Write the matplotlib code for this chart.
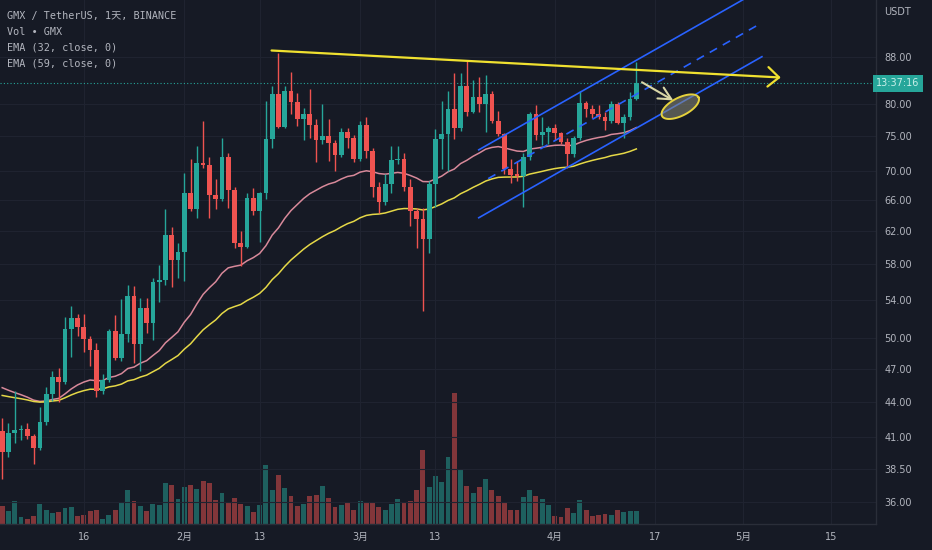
import numpy as np
import pandas as pd
import matplotlib
matplotlib.use("Agg")
import matplotlib.pyplot as plt
import matplotlib.transforms as mtransforms
from matplotlib.ticker import FixedLocator, NullLocator, FixedFormatter

# --- GMX / USDT daily candles, 2023-01-03 .. 2023-04-14 ---
start_date = "2023-01-03"

opens = [41.5, 39.8, 41.4, 41.6, 41.7, 41.1, 40.1, 42.3, 44.7, 46.3,
         45.8, 51.0, 52.1, 51.2, 49.9, 48.9, 45.0, 46.0, 50.8, 48.1,
         50.4, 54.5, 49.4, 53.2, 51.6, 56.0, 56.2, 61.5, 58.5, 59.5,
         66.9, 64.8, 71.1, 70.8, 66.7, 66.2, 72.0, 67.3, 60.5, 60.1,
         66.3, 64.6, 66.9, 74.6, 81.6, 76.4, 82.2, 80.3, 77.6, 78.5,
         76.8, 74.5, 75.1, 74.0, 72.2, 75.7, 74.7, 71.7, 76.8, 72.9,
         67.8, 65.7, 68.1, 71.5, 71.7, 67.8, 64.6, 63.5, 61.0, 68.2,
         74.6, 75.4, 79.2, 76.2, 83.0, 78.8, 81.1, 80.0, 81.6, 77.4,
         75.3, 70.3, 69.4, 69.3, 71.9, 78.4, 75.2, 75.6, 76.2, 75.5,
         74.2, 72.4, 74.7, 80.2, 79.2, 78.4, 77.9, 77.4, 80.0, 77.1,
         77.9, 80.9]
highs = [42.6, 42.2, 45.0, 42.0, 42.2, 41.3, 43.6, 45.4, 46.8, 47.1,
         52.2, 53.4, 52.5, 52.5, 50.2, 49.5, 46.6, 51.0, 52.4, 54.1,
         55.7, 55.6, 54.2, 54.2, 56.4, 57.9, 64.8, 62.5, 60.6, 69.7,
         71.6, 73.5, 77.3, 72.0, 68.8, 74.8, 72.6, 67.7, 62.0, 66.9,
         67.6, 67.1, 80.5, 83.0, 88.7, 83.0, 85.4, 81.8, 79.4, 82.4,
         77.6, 80.1, 77.7, 74.5, 76.3, 76.3, 75.2, 77.3, 78.0, 73.3,
         68.4, 69.5, 73.5, 73.5, 72.6, 68.9, 65.0, 65.0, 68.6, 76.1,
         80.5, 82.1, 85.1, 85.2, 87.3, 84.0, 84.5, 84.8, 82.2, 78.9,
         75.5, 71.6, 71.4, 72.6, 78.8, 79.8, 77.9, 76.6, 76.9, 75.7,
         74.7, 75.1, 82.1, 80.5, 79.9, 79.9, 78.8, 80.5, 80.3, 78.4,
         81.9, 87.0]
lows = [37.7, 39.4, 40.5, 40.8, 40.9, 38.9, 40.0, 42.0, 44.1, 44.0,
        45.6, 48.2, 50.2, 48.7, 47.3, 44.5, 44.7, 45.8, 47.9, 47.8,
        49.6, 47.6, 46.8, 50.6, 49.8, 53.8, 55.7, 55.4, 56.4, 56.1,
        64.6, 63.7, 70.4, 63.7, 64.8, 65.9, 65.0, 60.0, 57.8, 59.9,
        64.0, 60.7, 66.1, 73.3, 76.3, 76.2, 78.5, 76.5, 74.4, 74.8,
        71.3, 73.8, 71.4, 69.9, 71.9, 73.3, 71.3, 71.4, 71.8, 66.4,
        64.3, 65.3, 67.0, 71.0, 67.2, 62.6, 59.9, 52.8, 59.4, 65.1,
        70.2, 70.0, 74.6, 75.8, 78.2, 78.6, 78.8, 75.7, 77.0, 75.0,
        69.6, 68.3, 68.6, 65.1, 71.5, 74.5, 73.7, 73.9, 74.5, 73.8,
        70.4, 71.9, 74.5, 77.9, 77.8, 77.6, 75.9, 77.0, 76.9, 74.7,
        77.5, 80.7]
closes = [39.8, 41.4, 41.6, 41.7, 41.1, 40.1, 42.3, 44.7, 46.3, 45.8,
          51.0, 52.1, 51.2, 49.9, 48.9, 45.0, 46.0, 50.8, 48.1, 50.4,
          54.5, 49.4, 53.2, 51.6, 56.0, 56.2, 61.5, 58.5, 59.5, 66.9,
          64.8, 71.1, 70.8, 66.7, 66.2, 72.0, 67.3, 60.5, 60.1, 66.3,
          64.6, 66.9, 74.6, 81.6, 76.4, 82.2, 80.3, 77.6, 78.5, 76.8,
          74.5, 75.1, 74.0, 72.2, 75.7, 74.7, 71.7, 76.8, 72.9, 67.8,
          65.7, 68.1, 71.5, 71.7, 67.8, 64.6, 63.5, 61.0, 68.2, 74.6,
          75.4, 79.2, 76.2, 83.0, 78.8, 81.1, 80.0, 81.6, 77.4, 75.3,
          70.3, 69.4, 69.3, 71.9, 78.4, 75.2, 75.6, 76.2, 75.5, 74.2,
          72.4, 74.7, 80.2, 79.2, 78.4, 77.9, 77.4, 80.0, 77.1, 77.9,
          80.9, 83.4]
# volume in thousands of GMX
volumes = [108, 78, 138, 42, 32, 48, 120, 86, 64, 72,
           94, 102, 50, 54, 78, 82, 32, 54, 82, 130,
           202, 140, 108, 78, 118, 114, 244, 234, 148, 224,
           234, 210, 260, 248, 144, 184, 132, 154, 118, 108,
           74, 114, 354, 202, 296, 214, 166, 110, 122, 166,
           174, 228, 156, 100, 112, 126, 82, 138, 130, 130,
           100, 82, 118, 152, 134, 138, 206, 448, 224, 286,
           254, 402, 788, 322, 228, 184, 224, 268, 202, 170,
           134, 84, 84, 160, 202, 166, 148, 112, 48, 44,
           94, 64, 144, 82, 48, 54, 60, 54, 86, 74,
           78, 78]

ema_fast_len, ema_slow_len = 32, 59
ema_fast_start, ema_slow_start = 45.3, 44.6   # EMA values on first visible bar

price_ticks = [36, 38.5, 41, 44, 47, 50, 54, 58, 62, 66, 70, 75, 80, 88]
time_ticks = ["2023-01-16", "2023-02-01", "2023-02-13", "2023-03-01", "2023-03-13",
              "2023-04-01", "2023-04-17", "2023-05-01", "2023-05-15"]
time_labels = ["16", "2月", "13", "3月", "13", "4月", "17", "5月", "15"]

legend_lines = ["GMX / TetherUS, 1天, BINANCE", "Vol \u2022 GMX",
                "EMA (32, close, 0)", "EMA (59, close, 0)"]
countdown = "13:37:16"

# drawings (bar index, price)
trend_line = [(42.9, 89.1), (124.0, 84.4)]
channel_upper = [(75.9, 73.0), (120.7, 100.6)]
channel_lower = [(75.9, 63.7), (121.0, 88.0)]
channel_mid = [(77.4, 68.9), (120.7, 94.0)]
small_arrow = [(101.9, 83.6), (106.9, 80.6)]
ellipse_center = (108.0, 79.6)

# --- colours ---
BG = "#161a25"
GRID = "#1f2330"
TXT = "#b2b5be"
UP = "#26a69a"
DOWN = "#ef5350"

o = np.array(opens); h = np.array(highs); l = np.array(lows); c = np.array(closes)
v = np.array(volumes)
idx = np.arange(len(c))
up = c >= o


def ema(values, length, first):
    a = 2.0 / (length + 1)
    out = [first]
    for val in values[1:]:
        out.append(out[-1] + a * (val - out[-1]))
    return np.array(out)


ema_fast = ema(c, ema_fast_len, ema_fast_start)
ema_slow = ema(c, ema_slow_len, ema_slow_start)

W, H = 932, 550
fig = plt.figure(figsize=(W / 100, H / 100), dpi=100, facecolor=BG)
ax = fig.add_axes([0, 26 / H, 876 / W, 524 / H])
vax = ax.twinx()

# volume pane (behind price)
ax.set_zorder(vax.get_zorder() + 1)
ax.patch.set_visible(False)
vax.set_facecolor(BG)
vax.bar(idx[up], v[up], width=0.78, color=UP, alpha=0.5, linewidth=0)
vax.bar(idx[~up], v[~up], width=0.78, color=DOWN, alpha=0.5, linewidth=0)
vax.set_ylim(0, v.max() / 0.25)
vax.set_yticks([])
for s in vax.spines.values():
    s.set_visible(False)

# price pane
ax.set_yscale("log")
ax.set_xlim(-0.35, 139.17)
ax.set_ylim(34.46, 98.6)

start = pd.Timestamp(start_date)
tick_pos = [(pd.Timestamp(d) - start).days for d in time_ticks]

for p in price_ticks:
    ax.axhline(p, color=GRID, lw=0.8, zorder=0)
for x in tick_pos:
    ax.axvline(x, color=GRID, lw=0.8, zorder=0)

cols = np.where(up, UP, DOWN)
ax.vlines(idx, l, h, colors=cols, lw=1.0, zorder=3)
body_lo = np.minimum(o, c)
body_h = np.maximum(np.abs(c - o), body_lo * 0.003)
ax.bar(idx, body_h, bottom=body_lo, width=0.75, color=cols, linewidth=0, zorder=4)

ax.plot(idx, ema_fast, color="#d8899a", lw=1.1, zorder=2)
ax.plot(idx, ema_slow, color="#e5d847", lw=1.1, zorder=2)

# last price line
ax.axhline(c[-1], color=UP, lw=0.8, ls=(0, (1, 2)), zorder=1)

# drawings
ax.plot(*zip(*channel_upper), color="#2962ff", lw=1.2, zorder=5)
ax.plot(*zip(*channel_lower), color="#2962ff", lw=1.2, zorder=5)
ax.plot(*zip(*channel_mid), color="#2962ff", lw=1.2, ls=(0, (5, 4)), zorder=5)
ax.annotate("", xy=trend_line[1], xytext=trend_line[0],
            arrowprops=dict(arrowstyle="->,head_length=0.8,head_width=0.7",
                            color="#f0e130", lw=1.6, shrinkA=0, shrinkB=0), zorder=6)
ax.annotate("", xy=small_arrow[1], xytext=small_arrow[0],
            arrowprops=dict(arrowstyle="->,head_length=0.9,head_width=0.45",
                            color="#d9d6a6", lw=1.5, shrinkA=0, shrinkB=0), zorder=6)

# ellipse drawn in screen space round its data centre
t = np.linspace(0, 2 * np.pi, 120)
a_px, b_px, ang = 20.5, 9.0, np.radians(27)
dx = a_px * np.cos(t) * np.cos(ang) - b_px * np.sin(t) * np.sin(ang)
dy = a_px * np.cos(t) * np.sin(ang) + b_px * np.sin(t) * np.cos(ang)
cx, cy = ax.transData.transform(ellipse_center)
pts = ax.transData.inverted().transform(np.column_stack([cx + dx, cy + dy]))
ax.fill(pts[:, 0], pts[:, 1], facecolor="#8a8a78", alpha=0.55, edgecolor="none", zorder=6)
ax.plot(pts[:, 0], pts[:, 1], color="#e6d23c", lw=1.4, zorder=7)

# axes / ticks
ax.yaxis.tick_right()
ax.yaxis.set_major_locator(FixedLocator(price_ticks))
ax.yaxis.set_minor_locator(NullLocator())
ax.yaxis.set_major_formatter(FixedFormatter([f"{p:.2f}" for p in price_ticks]))
ax.xaxis.set_major_locator(FixedLocator(tick_pos))
ax.xaxis.set_major_formatter(FixedFormatter(time_labels))
ax.tick_params(axis="y", length=0, pad=6, labelsize=7, labelcolor=TXT)
ax.tick_params(axis="x", length=0, pad=6, labelsize=7, labelcolor=TXT)
for lab in ax.get_xticklabels():
    lab.set_family(["DejaVu Sans", "Noto Sans CJK SC"])
for side in ["top", "left"]:
    ax.spines[side].set_visible(False)
for side in ["right", "bottom"]:
    ax.spines[side].set_color("#2a2e39")
    ax.spines[side].set_linewidth(1.0)

# price-scale extras
fig.text(884 / W, 1 - 12 / H, "USDT", color=TXT, fontsize=7, va="center", ha="left")
blend = mtransforms.blended_transform_factory(ax.transAxes, ax.transData)
ax.text(1.0, c[-1], countdown, transform=blend, ha="left", va="center",
        fontsize=7, color="#c9efe9", clip_on=False, zorder=10,
        bbox=dict(boxstyle="square,pad=0.35", fc=UP, ec="none"))

# legend block
for k, line in enumerate(legend_lines):
    fig.text(7 / W, 1 - (16 + 16 * k) / H, line, color=TXT, fontsize=7.3,
             family=["DejaVu Sans Mono", "Noto Sans CJK SC"], va="center", ha="left")

fig.savefig("out.png", dpi=100, facecolor=BG)
